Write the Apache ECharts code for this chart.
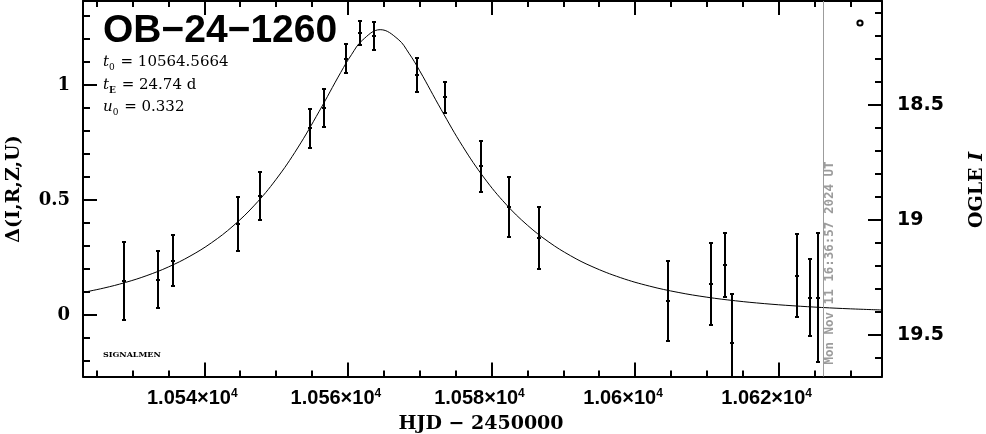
<!DOCTYPE html>
<html><head><meta charset="utf-8">
<script src="https://cdn.jsdelivr.net/npm/echarts@6/dist/echarts.min.js"></script>
<style>html,body{margin:0;padding:0;background:#fff}#c{width:986px;height:434px}</style>
</head><body><div id="c"></div>
<script>
// Observed points: HJD-2450000, delta magnitude, error
const obsT = [10528.80, 10533.54, 10535.63, 10544.68, 10547.70, 10554.76, 10556.66, 10559.68, 10561.63, 10563.58, 10569.57, 10573.51, 10578.52, 10582.42, 10586.56, 10604.53, 10610.52, 10612.51, 10613.54, 10622.49, 10624.44, 10625.46];
const obsD = [0.148, 0.154, 0.236, 0.396, 0.517, 0.811, 0.900, 1.115, 1.226, 1.213, 1.043, 0.946, 0.646, 0.468, 0.335, 0.061, 0.136, 0.217, -0.123, 0.171, 0.075, 0.076];
const obsE = [0.168, 0.125, 0.110, 0.118, 0.105, 0.083, 0.081, 0.063, 0.052, 0.059, 0.074, 0.067, 0.112, 0.130, 0.133, 0.174, 0.178, 0.139, 0.213, 0.180, 0.167, 0.279];
// Model curve
const modelT = [10523, 10526, 10529, 10532, 10535, 10538, 10541, 10544, 10547, 10550, 10553, 10556, 10559, 10560.5, 10562, 10564.5, 10567, 10568.5, 10570, 10573, 10576, 10579, 10582, 10585, 10588, 10591, 10594, 10598, 10602, 10606, 10610, 10614, 10618, 10622, 10626, 10630, 10634.5];
const modelD = [0.0975, 0.1171, 0.1414, 0.1715, 0.2089, 0.2557, 0.3141, 0.3870, 0.4777, 0.5899, 0.7262, 0.8854, 1.0546, 1.1319, 1.1942, 1.2406, 1.1987, 1.1382, 1.0618, 0.8929, 0.7328, 0.5954, 0.4822, 0.3906, 0.3170, 0.2580, 0.2108, 0.1621, 0.1257, 0.0983, 0.0775, 0.0617, 0.0495, 0.0401, 0.0327, 0.0268, 0.0217];
// Axes ticks and labels
const xMajor = [10540, 10560, 10580, 10600, 10620];
const xMajorMantissa = ['1.054', '1.056', '1.058', '1.06', '1.062'];
const xMinor = [10525, 10530, 10535, 10545, 10550, 10555, 10565, 10570, 10575, 10585, 10590, 10595, 10605, 10610, 10615, 10625, 10630];
const yMajor = [0, 0.5, 1];
const yMajorLabels = ['0', '0.5', '1'];
const yMinor = [-0.2, -0.1, 0.1, 0.2, 0.3, 0.4, 0.6, 0.7, 0.8, 0.9, 1.1, 1.2, 1.3];
const magMajor = [18.5, 19, 19.5];
const magLabels = ['18.5', '19', '19.5'];
const magMinor = [18.1, 18.2, 18.3, 18.4, 18.6, 18.7, 18.8, 18.9, 19.1, 19.2, 19.3, 19.4, 19.6];
const nowHJD = 10626.19;
const xRange = [10523.1, 10634.4];
const dRange = [-0.2674, 1.3652];
const magRange = [18.048, 19.680];

const chart = echarts.init(document.getElementById('c'), null, {renderer: 'canvas'});
const black = '#000';
function idx(arr, v) { for (let i = 0; i < arr.length; i++) if (Math.abs(arr[i] - v) < 1e-6) return i; return -1; }

const xBase = {type: 'value', min: xRange[0], max: xRange[1], splitLine: {show: false}, gridIndex: 0};
const paramRich = function (subBold) {
  return {
    i: {fontFamily: 'DejaVu Serif', fontStyle: 'italic', fontSize: 15, lineHeight: 20, fill: black},
    s: {fontFamily: 'DejaVu Serif', fontWeight: subBold ? 'bold' : 'normal', fontSize: 9, lineHeight: 20, verticalAlign: 'bottom', fill: black, padding: [0, 1, 0, 0]},
    n: {fontFamily: 'DejaVu Serif', fontSize: 15, lineHeight: 20, fill: black}
  };
};
const option = {
  animation: false,
  backgroundColor: '#fff',
  grid: {left: 83, right: 104, top: 1, bottom: 57.5, containLabel: false},
  xAxis: [
    Object.assign({}, xBase, {
      position: 'bottom',
      axisLine: {show: true, onZero: false, lineStyle: {color: black, width: 2}},
      axisTick: {show: true, inside: true, length: 14, lineStyle: {color: black, width: 2}, customValues: xMajor},
      axisLabel: {
        show: true, margin: 11, customValues: xMajor,
        formatter: function (v) { const i = idx(xMajor, v); return i < 0 ? '' : '{m|' + xMajorMantissa[i] + '×10}{e|4}'; },
        rich: {
          m: {fontFamily: 'Liberation Sans', fontWeight: 'bold', fontSize: 20, color: black, lineHeight: 22},
          e: {fontFamily: 'Liberation Sans', fontWeight: 'bold', fontSize: 12, color: black, verticalAlign: 'top', lineHeight: 22, padding: [0, 24, 0, 0]}
        }
      }
    }),
    Object.assign({}, xBase, {
      position: 'bottom',
      axisLine: {show: false, onZero: false},
      axisTick: {show: true, inside: true, length: 6, lineStyle: {color: black, width: 2}, customValues: xMinor},
      axisLabel: {show: false}
    }),
    Object.assign({}, xBase, {
      position: 'top',
      axisLine: {show: true, onZero: false, lineStyle: {color: black, width: 2}},
      axisTick: {show: true, inside: true, length: 14, lineStyle: {color: black, width: 2}, customValues: xMajor},
      axisLabel: {show: false}
    }),
    Object.assign({}, xBase, {
      position: 'top',
      axisLine: {show: false, onZero: false},
      axisTick: {show: true, inside: true, length: 6, lineStyle: {color: black, width: 2}, customValues: xMinor},
      axisLabel: {show: false}
    })
  ],
  yAxis: [
    {
      type: 'value', position: 'left', min: dRange[0], max: dRange[1], splitLine: {show: false},
      axisLine: {show: true, onZero: false, lineStyle: {color: black, width: 2}},
      axisTick: {show: true, inside: true, length: 14, lineStyle: {color: black, width: 2}, customValues: yMajor},
      axisLabel: {
        show: true, margin: 13, customValues: yMajor,
        formatter: function (v) { const i = idx(yMajor, v); return i < 0 ? '' : yMajorLabels[i]; },
        fontFamily: 'DejaVu Serif', fontWeight: 'bold', fontSize: 18, color: black
      }
    },
    {
      type: 'value', position: 'left', min: dRange[0], max: dRange[1], splitLine: {show: false},
      axisLine: {show: false, onZero: false},
      axisTick: {show: true, inside: true, length: 7, lineStyle: {color: black, width: 2}, customValues: yMinor},
      axisLabel: {show: false}
    },
    {
      type: 'value', position: 'right', inverse: true, min: magRange[0], max: magRange[1], splitLine: {show: false},
      axisLine: {show: true, onZero: false, lineStyle: {color: black, width: 2}},
      axisTick: {show: true, inside: true, length: 14, lineStyle: {color: black, width: 2}, customValues: magMajor},
      axisLabel: {
        show: true, margin: 15, customValues: magMajor,
        formatter: function (v) { const i = idx(magMajor, v); return i < 0 ? '' : magLabels[i]; },
        fontFamily: 'DejaVu Sans', fontWeight: 'bold', fontSize: 19, color: black
      }
    },
    {
      type: 'value', position: 'right', inverse: true, min: magRange[0], max: magRange[1], splitLine: {show: false},
      axisLine: {show: false, onZero: false},
      axisTick: {show: true, inside: true, length: 7, lineStyle: {color: black, width: 2}, customValues: magMinor},
      axisLabel: {show: false}
    }
  ],
  series: [
    {
      type: 'line', name: 'model', xAxisIndex: 0, yAxisIndex: 0,
      data: modelT.map(function (t, i) { return [t, modelD[i]]; }),
      showSymbol: false, symbol: 'none', smooth: 0.4, clip: true,
      lineStyle: {color: black, width: 1},
      silent: true,
      markLine: {
        silent: true, symbol: ['none', 'none'], label: {show: false},
        lineStyle: {color: '#9c9c9c', width: 1, type: 'solid'},
        emphasis: {disabled: true},
        data: [{xAxis: nowHJD}]
      }
    },
    {
      type: 'custom', name: 'OGLE', xAxisIndex: 0, yAxisIndex: 0,
      dimensions: ['t', 'd', 'e'], encode: {x: 0, y: 1},
      data: obsT.map(function (t, i) { return [t, obsD[i], obsE[i]]; }),
      silent: true,
      renderItem: function (params, api) {
        const t = api.value(0), d = api.value(1), e = api.value(2);
        const cs = params.coordSys;
        const pt = api.coord([t, d + e]), pb = api.coord([t, d - e]), pc = api.coord([t, d]);
        const yMin = cs.y, yMax = cs.y + cs.height;
        const x = Math.round(pc[0]);
        const st = {stroke: black, lineWidth: 2};
        const y1 = Math.max(pt[1], yMin), y2 = Math.min(pb[1], yMax);
        const ch = [{type: 'line', shape: {x1: x, y1: y1, x2: x, y2: y2}, style: st}];
        if (pt[1] >= yMin) ch.push({type: 'line', shape: {x1: x - 2, y1: Math.round(pt[1]), x2: x + 2, y2: Math.round(pt[1])}, style: st});
        if (pb[1] <= yMax) ch.push({type: 'line', shape: {x1: x - 2, y1: Math.round(pb[1]), x2: x + 2, y2: Math.round(pb[1])}, style: st});
        ch.push({type: 'line', shape: {x1: x - 2, y1: Math.round(pc[1]), x2: x + 2, y2: Math.round(pc[1])}, style: st});
        return {type: 'group', children: ch};
      }
    }
  ],
  graphic: [
    {type: 'text', x: 103, y: 31, style: {text: 'OB−24−1260', font: 'bold 39px "Liberation Sans"', fill: black, align: 'left', verticalAlign: 'middle'}},
    {type: 'text', x: 103, y: 62, style: {text: '{i|t}{s|0}{n| = 10564.5664}', align: 'left', verticalAlign: 'middle', rich: paramRich(false)}},
    {type: 'text', x: 103, y: 85, style: {text: '{i|t}{s|E}{n| = 24.74 d}', align: 'left', verticalAlign: 'middle', rich: paramRich(true)}},
    {type: 'text', x: 103, y: 107, style: {text: '{i|u}{s|0}{n| = 0.332}', align: 'left', verticalAlign: 'middle', rich: paramRich(false)}},
    {type: 'text', x: 103, y: 355, style: {text: 'SIGNALMEN', font: 'bold 8px "DejaVu Serif"', fill: black, align: 'left', verticalAlign: 'middle'}},
    {type: 'text', x: 830, y: 263, rotation: Math.PI / 2, style: {text: 'Mon Nov 11 16:36:57 2024 UT', font: 'bold 12.5px "DejaVu Sans Mono"', fill: '#9c9c9c', align: 'center', verticalAlign: 'middle'}},
    {type: 'circle', shape: {cx: 860, cy: 23, r: 2.6}, style: {fill: 'none', stroke: black, lineWidth: 2}},
    {type: 'text', x: 14, y: 189, rotation: Math.PI / 2, style: {text: 'Δ(I,R,Z,U)', font: 'bold 19px "DejaVu Serif"', fill: black, align: 'center', verticalAlign: 'middle'}},
    {type: 'text', x: 481, y: 424, style: {text: 'HJD − 2450000', font: 'bold 19px "DejaVu Serif"', fill: black, align: 'center', verticalAlign: 'middle'}},
    {type: 'text', x: 977, y: 190, rotation: Math.PI / 2, style: {text: '{b|OGLE }{i|I}', align: 'center', verticalAlign: 'middle',
      rich: {b: {fontFamily: 'DejaVu Serif', fontWeight: 'bold', fontSize: 19, fill: black},
             i: {fontFamily: 'DejaVu Serif', fontWeight: 'bold', fontStyle: 'italic', fontSize: 19, fill: black}}}}
  ]
};
chart.setOption(option);
</script></body></html>
